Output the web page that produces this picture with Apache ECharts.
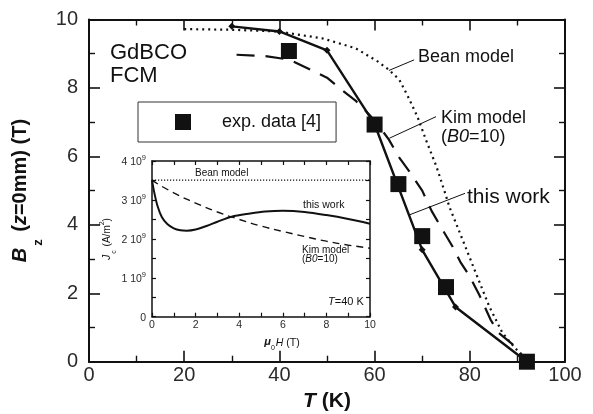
<!DOCTYPE html>
<html><head><meta charset="utf-8">
<script src="https://cdn.jsdelivr.net/npm/echarts@6/dist/echarts.min.js"></script>
<style>html,body{margin:0;padding:0;background:#fff}#c{width:593px;height:414px}</style>
</head><body><div id="c"></div>
<script>
// ---- main chart data: B_z(z=0mm) vs T ----
var thisWorkT = [30, 40, 50, 60, 70, 77, 92];
var thisWorkB = [9.8, 9.65, 9.1, 6.94, 3.27, 1.6, 0];
var expT = [42, 60, 65, 70, 75, 92];
var expB = [9.08, 6.93, 5.19, 3.67, 2.18, 0];
var kimT = [31, 37, 42, 46.6, 50, 53, 56, 59, 61, 63, 65, 67.6, 70, 72, 74.3, 76.4, 78, 80, 82, 84.4, 86, 89.6, 92];
var kimB = [8.97, 8.93, 8.83, 8.53, 8.3, 7.95, 7.63, 7.2, 6.87, 6.49, 6.0, 5.5, 5.0, 4.4, 3.85, 3.36, 2.92, 2.49, 1.95, 1.22, 0.85, 0.44, 0];
var beanT = [20, 30, 40, 42, 49, 56, 60.7, 63, 65.2, 67, 69, 70.8, 73, 74.6, 75.7, 78.5, 81.3, 84.1, 86.9, 92];
var beanB = [9.72, 9.7, 9.65, 9.6, 9.45, 9.16, 8.77, 8.53, 8.24, 7.75, 7.16, 6.48, 5.7, 5.02, 4.53, 3.56, 2.58, 1.61, 0.83, 0];
var beanLeader = [[63.0, 8.51], [68.3, 8.82]];
var kimLeader = [[63.1, 6.53], [72.9, 7.16]];
var workLeader = [[67.3, 4.29], [79.0, 4.92]];
var mainXTicks = {min: 0, max: 100, step: 20};
var mainYTicks = {min: 0, max: 10, step: 2};

// ---- inset data: Jc (1e9 A/m^2) vs mu0H (T) at T=40 K ----
var insetWorkH = [0, 0.1, 0.25, 0.45, 0.7, 1.0, 1.3, 1.6, 2.0, 2.5, 3, 3.65, 4.5, 5.2, 6, 7, 8, 9, 10];
var insetWorkJ = [3.51, 3.2, 2.85, 2.56, 2.38, 2.27, 2.22, 2.21, 2.24, 2.33, 2.44, 2.57, 2.65, 2.7, 2.72, 2.69, 2.61, 2.51, 2.39];
var insetKimH = [0, 1, 2, 3, 4, 5, 6, 7, 8, 9, 10];
var insetKimJ = [3.5, 3.18, 2.92, 2.69, 2.5, 2.33, 2.19, 2.06, 1.94, 1.84, 1.76];
var insetBeanH = [0, 10];
var insetBeanJ = [3.51, 3.51];
var insetXTicks = {min: 0, max: 10, step: 2};
var insetYTicks = {min: 0, max: 4, step: 1};

function zip(a, b) { return a.map(function (v, i) { return [v, b[i]]; }); }

var FF = '"Liberation Sans", Arial, Helvetica, sans-serif';
var DARK = '#111111';
var LBL = '#2b2b2b';

function mainAxis(pos, ticks, showLabel, gridIndex) {
  return {
    type: 'value', gridIndex: gridIndex, position: pos,
    min: ticks.min, max: ticks.max, interval: ticks.step,
    axisLine: {show: true, onZero: false, lineStyle: {color: DARK, width: 2}},
    axisTick: {show: true, inside: true, length: 11, lineStyle: {color: DARK, width: 1.6}},
    minorTick: {show: true, splitNumber: 2, length: 6, lineStyle: {color: DARK, width: 1.4}},
    splitLine: {show: false}, minorSplitLine: {show: false},
    axisLabel: {show: showLabel, fontSize: 20, fontFamily: FF, color: LBL, margin: pos === 'left' ? 11 : 4, showMinLabel: true, showMaxLabel: true}
  };
}
function insetAxis(pos, ticks, showLabel, gridIndex, fmt) {
  var a = {
    type: 'value', gridIndex: gridIndex, position: pos,
    min: ticks.min, max: ticks.max, interval: ticks.step,
    axisLine: {show: true, onZero: false, lineStyle: {color: DARK, width: 1.5}},
    axisTick: {show: true, inside: true, length: 4, lineStyle: {color: DARK, width: 1.2}},
    minorTick: {show: true, splitNumber: 2, length: 4, lineStyle: {color: DARK, width: 1.2}},
    splitLine: {show: false}, minorSplitLine: {show: false},
    axisLabel: {show: showLabel, fontSize: 10.5, fontFamily: FF, color: LBL, margin: pos === 'left' ? 6 : 3, showMinLabel: true, showMaxLabel: true}
  };
  if (fmt) { a.axisLabel.formatter = fmt.f; a.axisLabel.rich = fmt.rich; }
  return a;
}

var xAxes = [
  mainAxis('bottom', mainXTicks, true, 0),
  mainAxis('top', mainXTicks, false, 0),
  insetAxis('bottom', insetXTicks, true, 1),
  insetAxis('top', insetXTicks, false, 1)
];
var yAxes = [
  mainAxis('left', mainYTicks, true, 0),
  mainAxis('right', mainYTicks, false, 0),
  insetAxis('left', insetYTicks, true, 1, {
    f: function (v) { return v === 0 ? '{n|0}' : '{n|' + v + ' 10}{s|9}'; },
    rich: {n: {fontSize: 10.5, fontFamily: FF, color: LBL, lineHeight: 14, verticalAlign: 'bottom'},
           s: {fontSize: 7.5, fontFamily: FF, color: LBL, lineHeight: 14, verticalAlign: 'top', padding: [0, 0, 6, 0]}}
  }),
  insetAxis('right', insetYTicks, false, 1)
];

// axis names
xAxes[0].name = '{bi|T}{b| (K)}';
xAxes[0].nameLocation = 'middle';
xAxes[0].nameGap = 28;
xAxes[0].nameTextStyle = {rich: {
  bi: {fontSize: 21, fontWeight: 'bold', fontStyle: 'italic', fontFamily: FF, color: DARK},
  b: {fontSize: 21, fontWeight: 'bold', fontFamily: FF, color: DARK}}};

yAxes[0].name = '{bi|B}{sub|z}{b| (}{bi|z}{b|=0mm) (T)}';
yAxes[0].nameLocation = 'middle';
yAxes[0].nameRotate = 90;
yAxes[0].nameGap = 40;
yAxes[0].nameTextStyle = {rich: {
  bi: {fontSize: 20, fontWeight: 'bold', fontStyle: 'italic', fontFamily: FF, color: DARK, lineHeight: 24, verticalAlign: 'top'},
  b: {fontSize: 20, fontWeight: 'bold', fontFamily: FF, color: DARK, lineHeight: 24, verticalAlign: 'top'},
  sub: {fontSize: 13, fontWeight: 'bold', fontFamily: FF, color: DARK, lineHeight: 14, verticalAlign: 'top', padding: [21, 2, 0, 2]}}};

yAxes[2].name = '{i|J}{sub|c}{n| (A/m}{sup|2}{n|)}';
yAxes[2].nameLocation = 'middle';
yAxes[2].nameRotate = 90;
yAxes[2].nameGap = 33;
yAxes[2].nameTextStyle = {rich: {
  i: {fontSize: 10, fontStyle: 'italic', fontFamily: FF, color: DARK, lineHeight: 12, verticalAlign: 'top', padding: [4, 0, 0, 0]},
  n: {fontSize: 10, fontFamily: FF, color: DARK, lineHeight: 12, verticalAlign: 'top', padding: [4, 0, 0, 0]},
  sub: {fontSize: 7, fontFamily: FF, color: DARK, lineHeight: 8, verticalAlign: 'top', padding: [12, 1, 0, 1]},
  sup: {fontSize: 7, fontFamily: FF, color: DARK, lineHeight: 8, verticalAlign: 'top', padding: [0, 0, 0, 0]}}};

xAxes[2].name = '{mu|\u03bc}{sub|0}{i|H}{n| (T)}';
xAxes[2].nameLocation = 'middle';
xAxes[2].nameGap = 20;
xAxes[2].nameTextStyle = {padding: [0, 0, 0, 42], rich: {
  mu: {fontSize: 11, fontWeight: 'bold', fontStyle: 'italic', fontFamily: FF, color: DARK, lineHeight: 14, verticalAlign: 'top'},
  sub: {fontSize: 7, fontFamily: FF, color: DARK, lineHeight: 8, verticalAlign: 'top', padding: [8, 0, 0, 0]},
  i: {fontSize: 10.5, fontStyle: 'italic', fontFamily: FF, color: DARK, lineHeight: 14, verticalAlign: 'top', padding: [1, 0, 0, 1]},
  n: {fontSize: 10.5, fontFamily: FF, color: DARK, lineHeight: 14, verticalAlign: 'top', padding: [1, 0, 0, 0]}}};

function txt(x, y, text, size, extra) {
  var st = {text: text, fontSize: size, fontFamily: FF, fill: DARK, align: 'left', verticalAlign: 'middle'};
  if (extra) for (var k in extra) st[k] = extra[k];
  return {type: 'text', x: x, y: y, z: 100, silent: true, style: st};
}

var option = {
  animation: false,
  backgroundColor: '#fff',
  grid: [
    {left: 89, top: 19.5, right: 28, bottom: 52.3, containLabel: false, outerBoundsMode: 'none'},
    {left: 152, top: 161, width: 218, height: 155.7, containLabel: false, outerBoundsMode: 'none', show: true, backgroundColor: '#fff', borderWidth: 0}
  ],
  xAxis: xAxes,
  yAxis: yAxes,
  legend: {
    show: true, data: [{name: 'exp. data [4]', icon: 'rect', itemStyle: {color: DARK, opacity: 1}}],
    left: 138, top: 102, orient: 'horizontal',
    itemWidth: 16, itemHeight: 16,
    padding: [11, 15, 11, 37],
    borderColor: '#333', borderWidth: 1, backgroundColor: '#fff', borderRadius: 0,
    textStyle: {fontSize: 18, fontFamily: FF, color: DARK, padding: [0, 0, 0, 26]},
    selectedMode: false
  },
  series: [
    {name: 'Bean model', type: 'line', xAxisIndex: 0, yAxisIndex: 0, data: zip(beanT, beanB), showSymbol: false, symbol: 'none',
     lineStyle: {color: DARK, width: 2.2, type: [2, 4]}, z: 2},
    {name: 'Kim model', type: 'line', xAxisIndex: 0, yAxisIndex: 0, data: zip(kimT, kimB), showSymbol: false, symbol: 'none',
     lineStyle: {color: DARK, width: 2.2, type: [18, 11]}, z: 2},
    {name: 'this work', type: 'line', xAxisIndex: 0, yAxisIndex: 0, data: zip(thisWorkT, thisWorkB), symbol: 'diamond', symbolSize: 7,
     itemStyle: {color: DARK, opacity: 1}, lineStyle: {color: DARK, width: 2.4}, z: 3},
    {name: 'exp. data [4]', type: 'scatter', xAxisIndex: 0, yAxisIndex: 0, data: zip(expT, expB), symbol: 'rect', symbolSize: 16,
     itemStyle: {color: DARK, opacity: 1}, z: 5},
    {name: 'leaders', type: 'lines', coordinateSystem: 'cartesian2d', xAxisIndex: 0, yAxisIndex: 0, polyline: false, silent: true,
     data: [{coords: beanLeader}, {coords: kimLeader}, {coords: workLeader}],
     lineStyle: {color: DARK, width: 1, opacity: 1, curveness: 0}, z: 4},
    {name: 'inset Bean', type: 'line', xAxisIndex: 2, yAxisIndex: 2, data: zip(insetBeanH, insetBeanJ), symbol: 'none',
     lineStyle: {color: DARK, width: 1.2, type: [1.2, 1.8]}, z: 6},
    {name: 'inset Kim', type: 'line', xAxisIndex: 2, yAxisIndex: 2, data: zip(insetKimH, insetKimJ), symbol: 'none', smooth: true,
     lineStyle: {color: DARK, width: 1.4, type: [7, 5]}, z: 6},
    {name: 'inset this work', type: 'line', xAxisIndex: 2, yAxisIndex: 2, data: zip(insetWorkH, insetWorkJ), symbol: 'none', smooth: 0.3,
     lineStyle: {color: DARK, width: 2}, z: 6}
  ],
  graphic: [
    txt(110, 53, 'GdBCO', 22),
    txt(110, 76, 'FCM', 22),
    txt(418, 57, 'Bean model', 18),
    txt(441, 118, 'Kim model', 18),
    txt(441, 137, '{n|(}{i|B0}{n|=10)}', 18, {rich: {n: {fontSize: 18, fontFamily: FF, fill: DARK}, i: {fontSize: 18, fontStyle: 'italic', fontFamily: FF, fill: DARK}}}),
    txt(467, 197, 'this work', 21),
    txt(195, 173, 'Bean model', 10),
    txt(303, 205, 'this work', 10.5),
    txt(302, 250, 'Kim model', 10),
    txt(302, 259, '{n|(}{i|B0}{n|=10)}', 10, {rich: {n: {fontSize: 10, fontFamily: FF, fill: DARK}, i: {fontSize: 10, fontStyle: 'italic', fontFamily: FF, fill: DARK}}}),
    txt(328, 302, '{i|T}{n|=40 K}', 11, {rich: {n: {fontSize: 11, fontFamily: FF, fill: DARK}, i: {fontSize: 11, fontStyle: 'italic', fontFamily: FF, fill: DARK}}})
  ]
};
var chart = echarts.init(document.getElementById('c'), null, {renderer: 'canvas'});
chart.setOption(option);
</script></body></html>
